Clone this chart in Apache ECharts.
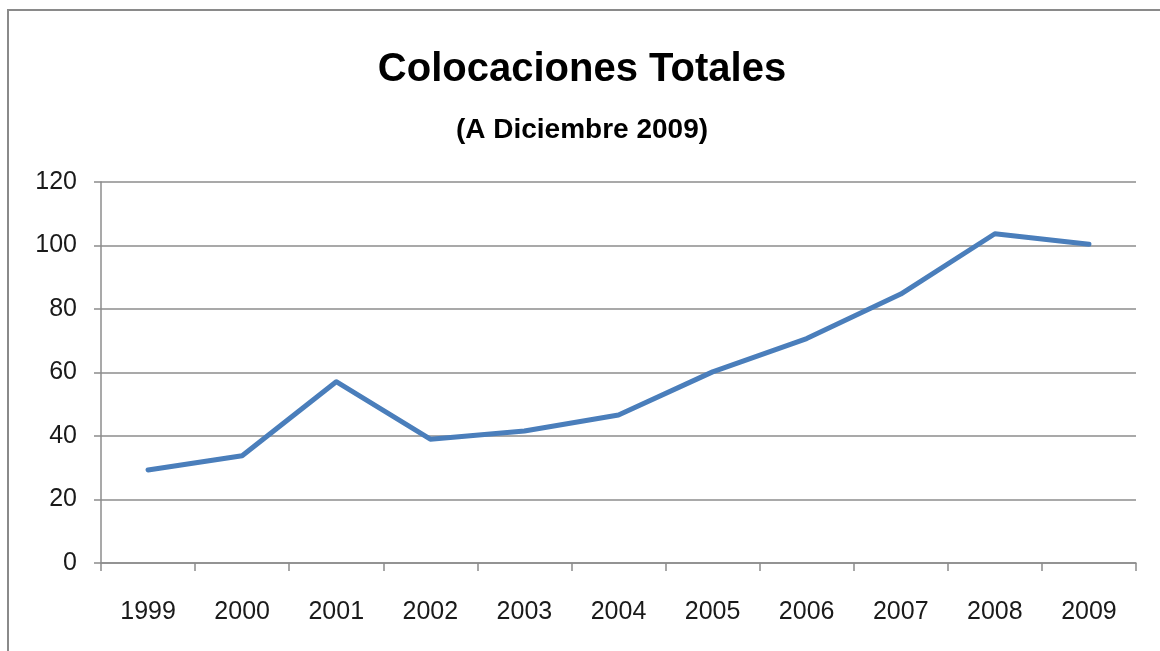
<!DOCTYPE html>
<html>
<head>
<meta charset="utf-8">
<script src="https://cdn.jsdelivr.net/npm/echarts@6/dist/echarts.min.js"></script>
<style>
html,body{margin:0;padding:0;background:#fff;}
#chart{width:1160px;height:651px;}
</style>
</head>
<body>
<div id="chart"></div>
<script>
var years = ['1999','2000','2001','2002','2003','2004','2005','2006','2007','2008','2009'];
var colocaciones = [29.3, 33.8, 57.1, 39.0, 41.6, 46.6, 60.2, 70.7, 84.7, 103.7, 100.4];
var titleText = 'Colocaciones Totales';
var subtitleText = '(A Diciembre 2009)';

var chart = echarts.init(document.getElementById('chart'));
var fontFam = '"Liberation Sans", Arial, sans-serif';
chart.setOption({
  animation: false,
  backgroundColor: '#fff',
  graphic: [{
    type: 'rect',
    shape: {x: 8, y: 10, width: 1300, height: 800},
    style: {fill: 'none', stroke: '#8a8a8a', lineWidth: 2},
    silent: true, z: -1
  }],
  title: [{
    text: titleText,
    left: 577, top: 45, textAlign: 'center',
    textStyle: {fontFamily: fontFam, fontSize: 40, fontWeight: 'bold', color: '#000'}
  }, {
    text: subtitleText,
    left: 577, top: 111, textAlign: 'center',
    textStyle: {fontFamily: fontFam, fontSize: 28, fontWeight: 'bold', color: '#000'}
  }],
  grid: {left: 101, right: 24, top: 182, bottom: 88, containLabel: false},
  xAxis: {
    type: 'category',
    data: years,
    boundaryGap: true,
    axisLine: {show: true, lineStyle: {color: '#8c8c8c', width: 1.5}},
    axisTick: {show: true, length: 8, inside: false, alignWithLabel: false, lineStyle: {color: '#8c8c8c', width: 1.5}},
    axisLabel: {margin: 37, fontFamily: fontFam, fontSize: 25, color: '#1a1a1a'},
    splitLine: {show: false}
  },
  yAxis: {
    type: 'value',
    min: 0, max: 120, interval: 20,
    axisLine: {show: true, lineStyle: {color: '#8c8c8c', width: 1.5}},
    axisTick: {show: true, length: 7, inside: false, lineStyle: {color: '#8c8c8c', width: 1.5}},
    axisLabel: {margin: 24, fontFamily: fontFam, fontSize: 25, color: '#1a1a1a'},
    splitLine: {show: true, lineStyle: {color: '#8c8c8c', width: 1.5}}
  },
  series: [{
    type: 'line',
    data: colocaciones,
    symbol: 'none',
    smooth: false,
    lineStyle: {color: '#4a7ebb', width: 5, cap: 'round', join: 'round'},
    itemStyle: {color: '#4a7ebb'}
  }]
});
</script>
</body>
</html>
